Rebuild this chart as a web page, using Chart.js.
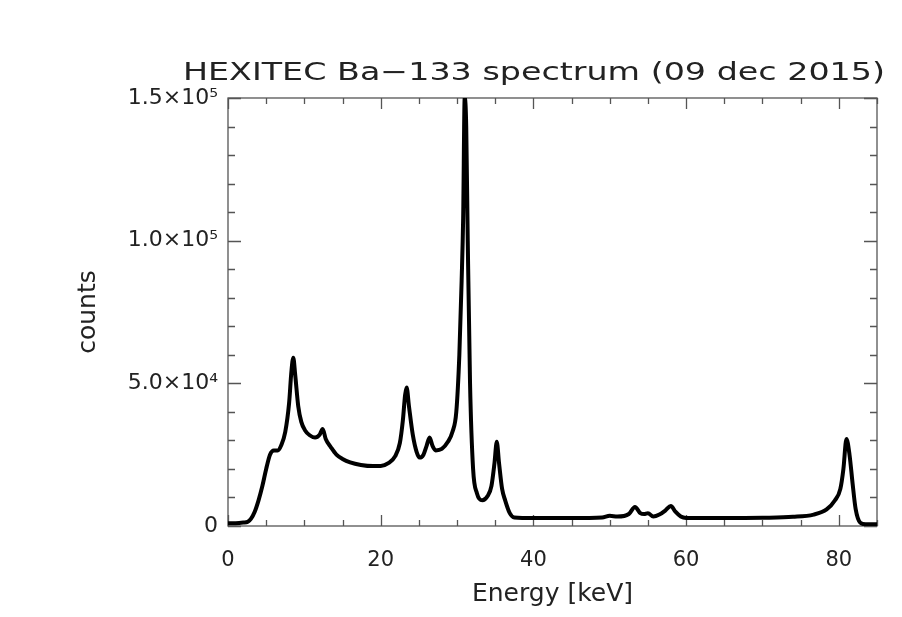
<!DOCTYPE html>
<html>
<head>
<meta charset="utf-8">
<script src="https://cdn.jsdelivr.net/npm/chart.js@4.4.1/dist/chart.umd.min.js"></script>
<style>
html,body{margin:0;padding:0;background:#fff;}
canvas{display:block;}
</style>
</head>
<body>
<canvas id="c" width="902" height="617"></canvas>
<script>
const chartTitle = "HEXITEC Ba\u2212133 spectrum (09 dec 2015)";
const xLabel = "Energy [keV]";
const yLabel = "counts";
const xTickValues = [0, 20, 40, 60, 80];
const yTickValues = [0, 50000, 100000, 150000];
const yTickLabels = ["0", "5.0\u00d710\u2074", "1.0\u00d710\u2075", "1.5\u00d710\u2075"];

const energy = [0, 1, 2, 2.6, 3, 3.5, 4, 4.5, 5, 5.5, 6, 6.5, 7, 7.5, 8, 8.3, 8.55, 8.8, 9.2, 9.6, 10.1, 10.7, 11.4, 12.0, 12.4, 12.8, 13.5, 14.2, 15, 16, 17.4, 19, 20, 21, 21.9, 22.5, 22.9, 23.2, 23.4, 23.7, 24.2, 24.7, 25.1, 25.6, 26.0, 26.4, 26.8, 27.2, 28.0, 28.8, 29.4, 29.9, 30.3, 30.6, 30.8, 31.0, 31.2, 31.4, 31.7, 32.1, 32.6, 33.3, 34.0, 34.5, 34.9, 35.2, 35.5, 35.9, 36.3, 36.9, 37.5, 40, 45, 49, 50, 51, 52.5, 53.3, 54, 54.5, 55, 55.7, 56.5, 57.3, 58.0, 58.6, 59.3, 60, 65, 70, 74, 76.7, 78.4, 79.5, 80.2, 80.6, 81.0, 81.4, 81.8, 82.2, 82.8, 83.5, 85];
const counts = [1000, 1000, 1200, 1500, 2500, 5000, 9000, 14000, 20000, 25000, 26500, 26500, 28500, 33000, 43000, 54000, 59000, 53000, 42000, 36500, 33500, 31800, 31000, 32000, 34000, 30500, 27500, 25000, 23500, 22300, 21400, 21000, 21000, 22000, 24500, 29000, 37000, 46000, 48500, 42000, 32000, 26000, 24000, 25000, 28000, 31000, 28000, 26500, 27000, 29500, 33000, 40000, 60000, 86000, 108000, 150000, 140000, 100000, 50000, 20000, 11500, 9000, 10500, 14000, 22000, 29500, 22000, 13000, 9000, 4500, 3000, 2800, 2800, 3000, 3600, 3300, 4200, 6700, 4500, 4200, 4500, 3300, 4000, 5500, 7000, 5000, 3300, 2800, 2800, 2900, 3200, 4000, 5800, 9000, 13000, 20000, 30500, 25000, 15000, 6000, 1200, 600, 600];

const xMin = 0, xMax = 85, xMajor = 20, xMinor = 5;
const yMin = 0, yMax = 150000, yMajor = 50000, yMinor = 10000;

const FONT = "'DejaVu Sans', sans-serif";

const bgPlugin = {
  id: 'bg',
  beforeDraw(chart) {
    const ctx = chart.ctx;
    ctx.save();
    ctx.fillStyle = '#fff';
    ctx.fillRect(0, 0, chart.width, chart.height);
    ctx.restore();
  }
};

const framePlugin = {
  id: 'frame',
  beforeDatasetsDraw(chart) {
    const {ctx, chartArea: a, scales: {x, y}} = chart;
    ctx.save();
    ctx.strokeStyle = '#555';
    ctx.lineWidth = 1.3;
    ctx.strokeRect(a.left, a.top, a.right - a.left, a.bottom - a.top);
    ctx.beginPath();
    for (let v = xMin; v <= xMax + 1e-9; v += xMinor) {
      const px = Math.round(x.getPixelForValue(v)) + 0.5;
      const len = (v % xMajor === 0) ? 11 : 6;
      ctx.moveTo(px, a.bottom); ctx.lineTo(px, a.bottom - len);
      ctx.moveTo(px, a.top); ctx.lineTo(px, a.top + len);
    }
    for (let v = yMin; v <= yMax + 1e-9; v += yMinor) {
      const py = Math.round(y.getPixelForValue(v)) + 0.5;
      const len = (v % yMajor === 0) ? 13 : 7;
      ctx.moveTo(a.left, py); ctx.lineTo(a.left + len, py);
      ctx.moveTo(a.right, py); ctx.lineTo(a.right - len, py);
    }
    ctx.stroke();
    ctx.restore();
  }
};

const titlePlugin = {
  id: 'titleText',
  afterDraw(chart) {
    const ctx = chart.ctx;
    ctx.save();
    ctx.font = "25px " + FONT;
    ctx.fillStyle = '#222';
    ctx.textBaseline = 'alphabetic';
    ctx.textAlign = 'left';
    const target = 702;
    const w = ctx.measureText(chartTitle).width;
    const sx = target / w;
    ctx.scale(sx, 1);
    ctx.fillText(chartTitle, 183 / sx, 80);
    ctx.restore();
  }
};

new Chart(document.getElementById('c'), {
  type: 'line',
  data: {
    datasets: [{
      data: energy.map((e, i) => ({x: e, y: counts[i]})),
      borderColor: '#000',
      borderWidth: 4,
      pointRadius: 0,
      cubicInterpolationMode: 'monotone',
      fill: false
    }]
  },
  options: {
    responsive: false,
    animation: false,
    devicePixelRatio: 1,
    layout: {padding: {left: 0, right: 25, top: 98, bottom: 0}},
    plugins: {legend: {display: false}, tooltip: {enabled: false}, title: {display: false}},
    scales: {
      x: {
        type: 'linear', min: xMin, max: xMax,
        grid: {display: false, drawTicks: false},
        border: {display: false},
        afterBuildTicks(s) { s.ticks = xTickValues.map(v => ({value: v})); },
        ticks: {color: '#222', font: {family: FONT, size: 21}, padding: 22, maxRotation: 0, autoSkip: false,
                callback: v => String(v)},
        title: {display: true, text: xLabel, color: '#222', font: {family: FONT, size: 25}, padding: {top: 0, bottom: 8}},
        afterFit(s) { s.height = 91; }
      },
      y: {
        type: 'linear', min: yMin, max: yMax,
        grid: {display: false, drawTicks: false},
        border: {display: false},
        afterBuildTicks(s) { s.ticks = yTickValues.map(v => ({value: v})); },
        ticks: {color: '#222', font: {family: FONT, size: 22}, padding: 10, autoSkip: false,
                callback: v => yTickLabels[yTickValues.indexOf(v)]},
        title: {display: true, text: yLabel, color: '#222', font: {family: FONT, size: 25}, padding: {top: 73, bottom: 0}},
        afterFit(s) { s.width = 228; }
      }
    }
  },
  plugins: [bgPlugin, framePlugin, titlePlugin]
});
</script>
</body>
</html>
